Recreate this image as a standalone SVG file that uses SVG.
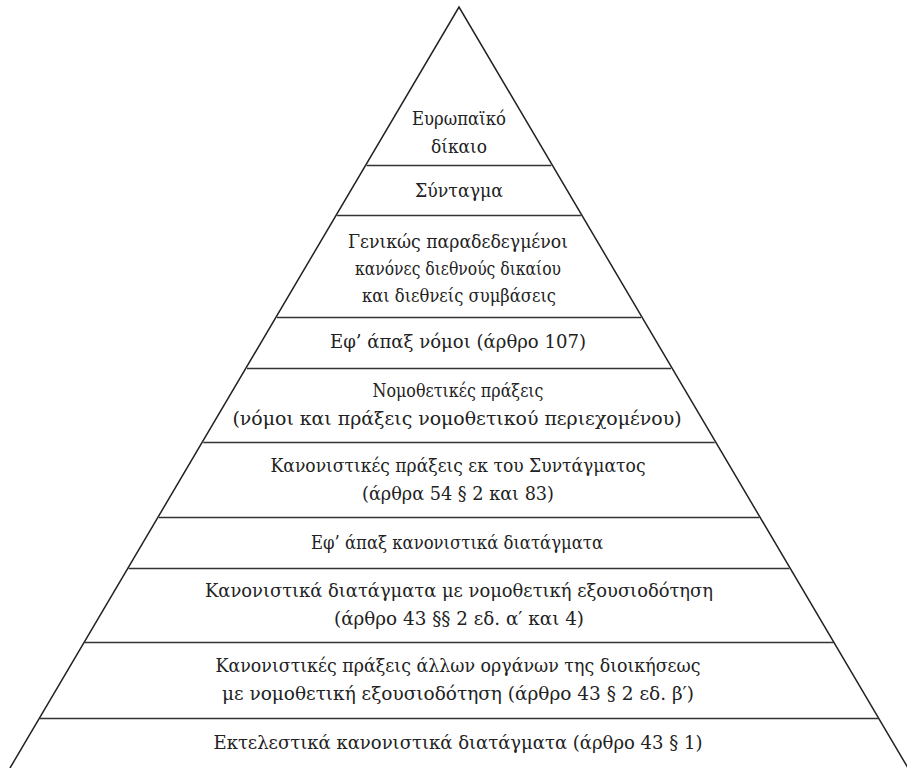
<svg xmlns="http://www.w3.org/2000/svg" width="907" height="768" viewBox="0 0 907 768">
  <style>
    .edge { fill: none; stroke: #222; stroke-width: 1.5; }
    .tier { stroke: #333; stroke-width: 1.6; }
    text { font-family: "DejaVu Serif", "Liberation Serif", serif; font-size: 18px; fill: #222; text-anchor: middle; }
  </style>
  <rect width="907" height="768" fill="#fff"/>

  <!-- pyramid outline -->
  <g id="outline">
    <polyline class="edge" points="10,768 459,7 908,768"/>
  </g>

  <!-- tier dividers -->
  <g id="dividers">
    <line class="tier" x1="366.6" y1="165.5" x2="551.4" y2="165.5"/>
    <line class="tier" x1="337.1" y1="215.5" x2="580.9" y2="215.5"/>
    <line class="tier" x1="277.0" y1="317.5" x2="641.0" y2="317.5"/>
    <line class="tier" x1="247.0" y1="368.5" x2="671.0" y2="368.5"/>
    <line class="tier" x1="203.3" y1="442.5" x2="714.7" y2="442.5"/>
    <line class="tier" x1="158.7" y1="517.5" x2="759.3" y2="517.5"/>
    <line class="tier" x1="128.6" y1="568.5" x2="789.4" y2="568.5"/>
    <line class="tier" x1="84.4" y1="642.5" x2="833.6" y2="642.5"/>
    <line class="tier" x1="39.8" y1="718.5" x2="878.2" y2="718.5"/>
  </g>

  <g id="tier-1">
    <text x="459" y="125" textLength="94" lengthAdjust="spacingAndGlyphs">Ευρωπαϊκό</text>
    <text x="459" y="153" textLength="56" lengthAdjust="spacingAndGlyphs">δίκαιο</text>
  </g>
  <g id="tier-2">
    <text x="459" y="197" textLength="88" lengthAdjust="spacingAndGlyphs">Σύνταγμα</text>
  </g>
  <g id="tier-3">
    <text x="458" y="248" textLength="220" lengthAdjust="spacingAndGlyphs">Γενικώς παραδεδεγμένοι</text>
    <text x="458" y="275" textLength="206" lengthAdjust="spacingAndGlyphs">κανόνες διεθνούς δικαίου</text>
    <text x="459" y="302" textLength="194" lengthAdjust="spacingAndGlyphs">και διεθνείς συμβάσεις</text>
  </g>
  <g id="tier-4">
    <text x="458" y="348" textLength="256" lengthAdjust="spacingAndGlyphs">Εφ’ άπαξ νόμοι (άρθρο 107)</text>
  </g>
  <g id="tier-5">
    <text x="458" y="397" textLength="171" lengthAdjust="spacingAndGlyphs">Νομοθετικές πράξεις</text>
    <text x="457" y="425" textLength="449" lengthAdjust="spacingAndGlyphs">(νόμοι και πράξεις νομοθετικού περιεχομένου)</text>
  </g>
  <g id="tier-6">
    <text x="458" y="472" textLength="375" lengthAdjust="spacingAndGlyphs">Κανονιστικές πράξεις εκ του Συντάγματος</text>
    <text x="458" y="500" textLength="192" lengthAdjust="spacingAndGlyphs">(άρθρα 54 § 2 και 83)</text>
  </g>
  <g id="tier-7">
    <text x="457" y="549" textLength="292" lengthAdjust="spacingAndGlyphs">Εφ’ άπαξ κανονιστικά διατάγματα</text>
  </g>
  <g id="tier-8">
    <text x="459" y="597" textLength="508" lengthAdjust="spacingAndGlyphs">Κανονιστικά διατάγματα με νομοθετική εξουσιοδότηση</text>
    <text x="459" y="625" textLength="250" lengthAdjust="spacingAndGlyphs">(άρθρο 43 §§ 2 εδ. α′ και 4)</text>
  </g>
  <g id="tier-9">
    <text x="458" y="672" textLength="485" lengthAdjust="spacingAndGlyphs">Κανονιστικές πράξεις άλλων οργάνων της διοικήσεως</text>
    <text x="458" y="700" textLength="472" lengthAdjust="spacingAndGlyphs">με νομοθετική εξουσιοδότηση (άρθρο 43 § 2 εδ. β′)</text>
  </g>
  <g id="tier-10">
    <text x="458" y="749" textLength="489" lengthAdjust="spacingAndGlyphs">Εκτελεστικά κανονιστικά διατάγματα (άρθρο 43 § 1)</text>
  </g>
</svg>
